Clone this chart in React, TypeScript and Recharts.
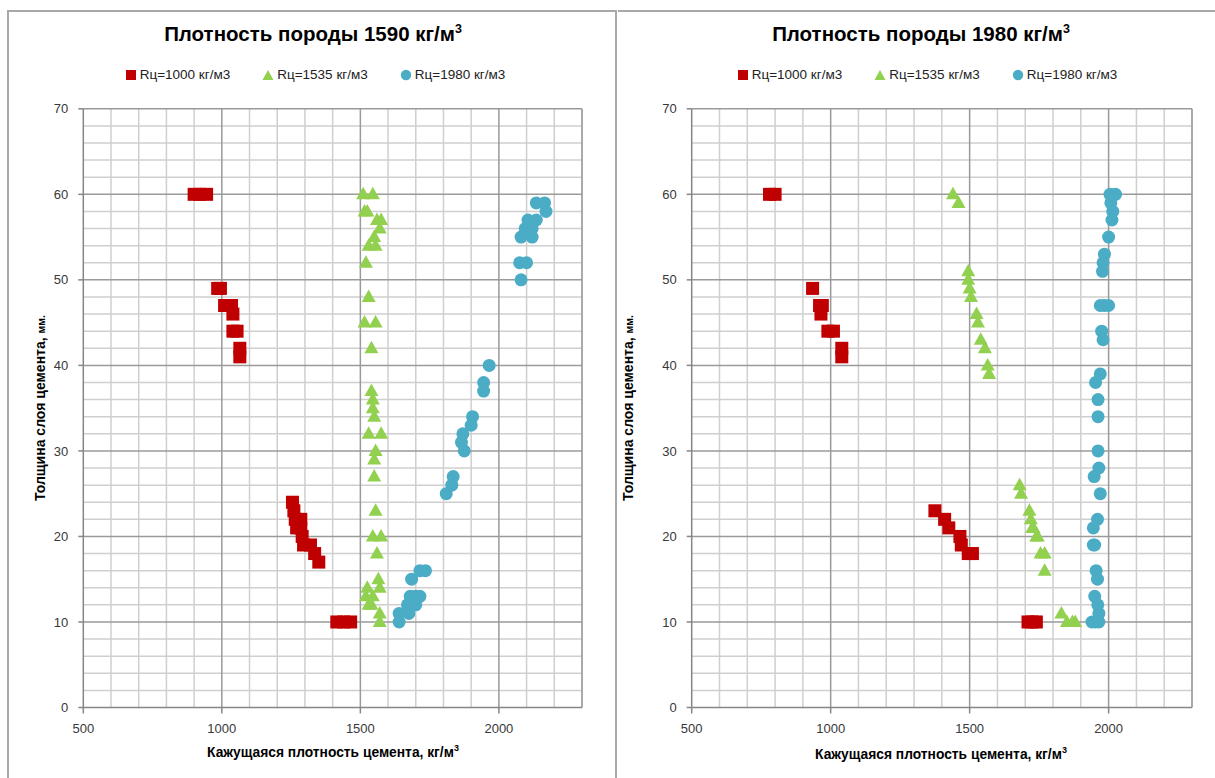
import React from 'react';
import { ScatterChart, Scatter, XAxis, YAxis, ReferenceLine } from 'recharts';

type Pt = [number, number];

const RED = '#C00000';
const GREEN = '#92D050';
const BLUE = '#4BACC6';
const FONT = '"Liberation Sans", Arial, sans-serif';

// tick labels and grid values
const xTickLabels = [500, 1000, 1500, 2000];
const yTickLabels = [0, 10, 20, 30, 40, 50, 60, 70];
const xMinorGrid = [600, 700, 800, 900, 1100, 1200, 1300, 1400, 1600, 1700, 1800, 1900, 2100, 2200, 2300];
const xMajorGrid = [1000, 1500, 2000];
const yMinorGrid = [2, 4, 6, 8, 12, 14, 16, 18, 22, 24, 26, 28, 32, 34, 36, 38, 42, 44, 46, 48, 52, 54, 56, 58, 62, 64, 66, 68];
const yMajorGrid = [10, 20, 30, 40, 50, 60, 70];

const seriesNames = ['Rц=1000 кг/м3', 'Rц=1535 кг/м3', 'Rц=1980 кг/м3'];
const rockDensities = ['1590', '1980'];

// Rock density 1590
const rock1590_cem1000: Pt[] = [
  [900, 60], [920, 60], [945, 60],
  [985, 49], [995, 49],
  [1010, 47], [1035, 47], [1040, 46],
  [1040, 44], [1055, 44],
  [1065, 42], [1065, 41],
  [1255, 24], [1260, 23], [1265, 22], [1285, 22], [1270, 21], [1285, 21], [1290, 20],
  [1295, 19], [1320, 19], [1335, 18], [1350, 17],
  [1415, 10], [1440, 10], [1465, 10],
];
const rock1590_cem1535: Pt[] = [
  [1510, 60], [1545, 60], [1515, 58], [1525, 58], [1560, 57], [1575, 57], [1570, 56],
  [1550, 55], [1530, 54], [1555, 54], [1520, 52], [1530, 48], [1515, 45], [1555, 45],
  [1540, 42], [1540, 37], [1545, 36], [1545, 35], [1550, 34], [1530, 32], [1575, 32],
  [1555, 30], [1550, 29], [1550, 27], [1555, 23], [1545, 20], [1575, 20], [1560, 18],
  [1565, 15], [1525, 14], [1570, 14], [1520, 13], [1545, 13], [1530, 12], [1540, 12],
  [1570, 11], [1570, 10],
];
const rock1590_cem1980: Pt[] = [
  [2135, 59], [2165, 59], [2170, 58], [2105, 57], [2135, 57], [2095, 56], [2120, 56],
  [2080, 55], [2120, 55], [2075, 52], [2100, 52], [2080, 50],
  [1965, 40], [1945, 38], [1945, 37], [1905, 34], [1900, 33], [1870, 32], [1865, 31],
  [1875, 30], [1835, 27], [1830, 26], [1810, 25],
  [1715, 16], [1735, 16], [1685, 15], [1680, 13], [1700, 13], [1715, 13], [1670, 12],
  [1700, 12], [1640, 11], [1675, 11], [1640, 10],
];

// Rock density 1980
const rock1980_cem1000: Pt[] = [
  [780, 60], [800, 60], [935, 49], [960, 47], [970, 47], [965, 46], [990, 44], [1010, 44],
  [1040, 42], [1040, 41],
  [1375, 23], [1410, 22], [1425, 21], [1465, 20], [1470, 19], [1495, 18], [1510, 18],
  [1710, 10], [1725, 10], [1740, 10],
];
const rock1980_cem1535: Pt[] = [
  [1440, 60], [1460, 59], [1495, 51], [1495, 50], [1500, 49], [1505, 48], [1525, 46],
  [1530, 45], [1540, 43], [1555, 42], [1565, 40], [1570, 39],
  [1680, 26], [1685, 25], [1715, 23], [1720, 22], [1725, 21], [1730, 21], [1740, 20],
  [1745, 20], [1755, 18], [1770, 18], [1770, 16], [1830, 11], [1850, 10], [1870, 10], [1880, 10],
];
const rock1980_cem1980: Pt[] = [
  [2005, 60], [2025, 60], [2008, 59], [2015, 58], [2012, 57], [2000, 55], [1985, 53],
  [1980, 52], [1978, 51], [1970, 47], [1985, 47], [2000, 47], [1975, 44], [1980, 43],
  [1970, 39], [1953, 38], [1962, 36], [1962, 34], [1962, 30], [1965, 28], [1948, 27],
  [1970, 25], [1960, 22], [1945, 21], [1950, 19], [1945, 19], [1955, 16], [1960, 15],
  [1950, 13], [1961, 12], [1965, 11], [1940, 10], [1952, 10], [1965, 10],
];

const toData = (pts: Pt[]) => pts.map(([x, y]) => ({ x, y }));

const SquareMark = (p: any) =>
  p.cx == null ? null : <rect x={p.cx - 6.5} y={p.cy - 6.5} width={13} height={13} fill={RED} />;
const TriangleMark = (p: any) =>
  p.cx == null ? null : (
    <polygon
      points={`${p.cx},${p.cy - 7.5} ${p.cx - 7},${p.cy + 5} ${p.cx + 7},${p.cy + 5}`}
      fill={GREEN}
    />
  );
const CircleMark = (p: any) =>
  p.cx == null ? null : <circle cx={p.cx} cy={p.cy} r={6.5} fill={BLUE} />;

const LegendIcon = ({ kind }: { kind: number }) => (
  <svg width={12} height={12} style={{ marginRight: 3 }}>
    {kind === 0 && <rect x={1} y={1} width={10} height={10} fill={RED} />}
    {kind === 1 && <polygon points="6,1 11.5,11 0.5,11" fill={GREEN} />}
    {kind === 2 && <circle cx={6} cy={6} r={5.2} fill={BLUE} />}
  </svg>
);

function Legend({ center }: { center: number }) {
  return (
    <div
      style={{
        position: 'absolute',
        left: center - 250,
        width: 500,
        top: 67,
        display: 'flex',
        justifyContent: 'center',
        alignItems: 'center',
        fontFamily: FONT,
        fontSize: 13.5,
        color: '#222',
        gap: 32,
      }}
    >
      {seriesNames.map((n, i) => (
        <div key={n} style={{ display: 'flex', alignItems: 'center', whiteSpace: 'nowrap' }}>
          <LegendIcon kind={i} />
          <span>{n}</span>
        </div>
      ))}
    </div>
  );
}

function Chart({
  svgLeft,
  svgWidth,
  mLeft,
  mRight,
  s1000,
  s1535,
  s1980,
}: {
  svgLeft: number;
  svgWidth: number;
  mLeft: number;
  mRight: number;
  s1000: Pt[];
  s1535: Pt[];
  s1980: Pt[];
}) {
  const tickStyle = { fill: '#383838', fontSize: 13, fontFamily: FONT };
  return (
    <div style={{ position: 'absolute', left: svgLeft, top: 0 }}>
      <ScatterChart
        width={svgWidth}
        height={778}
        margin={{ top: 108.8, right: mRight, bottom: 40.5, left: mLeft }}
      >
        <XAxis
          type="number"
          dataKey="x"
          domain={[500, 2300]}
          ticks={xTickLabels}
          interval={0}
          allowDataOverflow
          height={30}
          tickSize={6}
          tickMargin={10}
          axisLine={{ stroke: '#868686', strokeWidth: 1.5 }}
          tickLine={{ stroke: '#868686', strokeWidth: 1.5 }}
          tick={tickStyle}
        />
        <YAxis
          type="number"
          dataKey="y"
          domain={[0, 70]}
          ticks={yTickLabels}
          interval={0}
          allowDataOverflow
          width={60}
          tickSize={5}
          tickMargin={10}
          axisLine={{ stroke: '#868686', strokeWidth: 1.5 }}
          tickLine={{ stroke: '#868686', strokeWidth: 1.5 }}
          tick={tickStyle}
        />
        {xMinorGrid.map((v) => (
          <ReferenceLine key={'xm' + v} x={v} stroke="#cfcfcf" strokeWidth={1.5} />
        ))}
        {yMinorGrid.map((v) => (
          <ReferenceLine key={'ym' + v} y={v} stroke="#cfcfcf" strokeWidth={1.5} />
        ))}
        {xMajorGrid.map((v) => (
          <ReferenceLine key={'xM' + v} x={v} stroke="#9a9a9a" strokeWidth={1.5} />
        ))}
        {yMajorGrid.map((v) => (
          <ReferenceLine key={'yM' + v} y={v} stroke="#9a9a9a" strokeWidth={1.5} />
        ))}
        <ReferenceLine x={2300} stroke="#9a9a9a" strokeWidth={1.5} />
        <Scatter data={toData(s1000)} shape={SquareMark} isAnimationActive={false} />
        <Scatter data={toData(s1535)} shape={TriangleMark} isAnimationActive={false} />
        <Scatter data={toData(s1980)} shape={CircleMark} isAnimationActive={false} />
      </ScatterChart>
    </div>
  );
}

function Title({ center, rock }: { center: number; rock: string }) {
  return (
    <div
      style={{
        position: 'absolute',
        left: center - 250,
        width: 500,
        top: 22,
        textAlign: 'center',
        fontFamily: FONT,
        fontWeight: 'bold',
        fontSize: 20.5,
        color: '#000',
        whiteSpace: 'nowrap',
      }}
    >
      Плотность породы {rock} кг/м<sup style={{ fontSize: 12.5 }}>3</sup>
    </div>
  );
}

function XTitle({ center, top }: { center: number; top: number }) {
  return (
    <div
      style={{
        position: 'absolute',
        left: center - 200,
        width: 400,
        top,
        textAlign: 'center',
        fontFamily: FONT,
        fontWeight: 'bold',
        fontSize: 13.8,
        color: '#000',
        whiteSpace: 'nowrap',
      }}
    >
      Кажущаяся плотность цемента, кг/м<sup style={{ fontSize: 9 }}>3</sup>
    </div>
  );
}

function YTitle({ cx, cy }: { cx: number; cy: number }) {
  return (
    <div
      style={{
        position: 'absolute',
        left: cx,
        top: cy,
        transform: 'translate(-50%, -50%) rotate(-90deg)',
        fontFamily: FONT,
        fontWeight: 'bold',
        fontSize: 14,
        color: '#000',
        whiteSpace: 'nowrap',
      }}
    >
      Толщина слоя цемента, <span style={{ fontSize: 10.5 }}>мм.</span>
    </div>
  );
}

export default function App() {
  return (
    <div
      style={{
        position: 'absolute',
        left: 0,
        top: 0,
        width: 1215,
        height: 778,
        overflow: 'hidden',
        background: '#fff',
      }}
    >
      <div
        style={{
          position: 'absolute',
          left: 7,
          top: 10,
          width: 610,
          height: 800,
          boxSizing: 'border-box',
          border: '2px solid #a8a8a8',
        }}
      />
      <div
        style={{
          position: 'absolute',
          left: 618,
          top: 10,
          width: 620,
          height: 800,
          boxSizing: 'border-box',
          borderTop: '2px solid #a8a8a8',
        }}
      />
      <Title center={313} rock={rockDensities[0]} />
      <Title center={921} rock={rockDensities[1]} />
      <Legend center={315} />
      <Legend center={927} />
      <Chart svgLeft={0} svgWidth={616} mLeft={23.3} mRight={34} s1000={rock1590_cem1000} s1535={rock1590_cem1535} s1980={rock1590_cem1980} />
      <Chart svgLeft={616} svgWidth={600} mLeft={15.7} mRight={24} s1000={rock1980_cem1000} s1535={rock1980_cem1535} s1980={rock1980_cem1980} />
      <XTitle center={333} top={743} />
      <XTitle center={941} top={745} />
      <YTitle cx={40} cy={408} />
      <YTitle cx={628} cy={408} />
    </div>
  );
}
